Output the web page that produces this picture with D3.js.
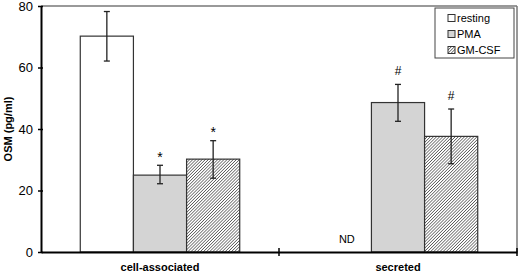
<!DOCTYPE html>
<html>
<head>
<meta charset="utf-8">
<script src="https://cdn.jsdelivr.net/npm/d3@7"></script>
<style>
  body { margin: 0; background: #fff; }
  text { font-family: Arial, 'Liberation Sans', sans-serif; }
</style>
</head>
<body>
<div id="chart"></div>
<script>
// data
var categories = ['cell-associated', 'secreted']
var series = ['resting', 'PMA', 'GM-CSF']
var means = {
  resting: [70.2, null],
  PMA: [25.0, 48.6],
  'GM-CSF': [30.2, 37.6]
}
var errLow = {
  resting: [62.1, null],
  PMA: [22.2, 42.5],
  'GM-CSF': [24.0, 28.7]
}
var errHigh = {
  resting: [78.2, null],
  PMA: [28.2, 54.5],
  'GM-CSF': [36.2, 46.5]
}
var marks = {
  resting: ['', 'ND'],
  PMA: ['*', '#'],
  'GM-CSF': ['*', '#']
}
var yTicks = [0, 20, 40, 60, 80]

var margin = { top: 6, left: 41, right: 3, bottom: 22 }
var width = 520 - margin.left - margin.right
var height = 274 - margin.top - margin.bottom

var svg = d3
  .select('#chart')
  .append('svg')
  .attr('width', 520)
  .attr('height', 274)

var defs = svg.append('defs')
var pat = defs
  .append('pattern')
  .attr('id', 'hatch')
  .attr('patternUnits', 'userSpaceOnUse')
  .attr('width', 2.2)
  .attr('height', 2.2)
  .attr('patternTransform', 'rotate(45)')
pat.append('rect').attr('width', 2.2).attr('height', 2.2).attr('fill', '#fff')
pat
  .append('line')
  .attr('x1', 0)
  .attr('y1', 0)
  .attr('x2', 0)
  .attr('y2', 2.2)
  .attr('stroke', '#222')
  .attr('stroke-width', 1.1)

var fills = { resting: '#ffffff', PMA: '#d4d4d4', 'GM-CSF': 'url(#hatch)' }

var g = svg
  .append('g')
  .attr('transform', 'translate(' + margin.left + ',' + margin.top + ')')

var x0 = d3.scaleBand().domain(categories).range([0, width])
var inner = x0.bandwidth() * 0.67
var x1 = d3
  .scaleBand()
  .domain(series)
  .range([0, inner])
var y = d3.scaleLinear().domain([0, 80]).range([height, 0])

// frame (top and right, gray)
g.append('line')
  .attr('x1', 0).attr('x2', width)
  .attr('y1', 0).attr('y2', 0)
  .attr('stroke', '#777').attr('stroke-width', 1.5)
g.append('line')
  .attr('x1', width).attr('x2', width)
  .attr('y1', 0).attr('y2', height)
  .attr('stroke', '#777').attr('stroke-width', 1.5)

// bars
var rows = []
series.forEach(s => {
  categories.forEach((c, i) => {
    rows.push({ s: s, c: c, v: means[s][i], lo: errLow[s][i], hi: errHigh[s][i], m: marks[s][i] })
  })
})

function bx(d) {
  return x0(d.c) + (x0.bandwidth() - inner) / 2 + x1(d.s)
}

g.selectAll('.bar')
  .data(rows.filter(d => d.v != null))
  .enter()
  .append('rect')
  .attr('class', 'bar')
  .attr('x', bx)
  .attr('width', x1.bandwidth())
  .attr('y', d => y(d.v))
  .attr('height', d => height - y(d.v))
  .attr('fill', d => fills[d.s])
  .attr('stroke', '#333')
  .attr('stroke-width', 1.2)

// error bars
var eb = g.selectAll('.err')
  .data(rows.filter(d => d.v != null))
  .enter()
  .append('g')
  .attr('class', 'err')
  .attr('transform', d => 'translate(' + (bx(d) + x1.bandwidth() / 2) + ',0)')
eb.append('line')
  .attr('y1', d => y(d.lo)).attr('y2', d => y(d.hi))
  .attr('stroke', '#222').attr('stroke-width', 1.3)
eb.append('line')
  .attr('x1', -3).attr('x2', 3)
  .attr('y1', d => y(d.hi)).attr('y2', d => y(d.hi))
  .attr('stroke', '#222').attr('stroke-width', 1.3)
eb.append('line')
  .attr('x1', -3).attr('x2', 3)
  .attr('y1', d => y(d.lo)).attr('y2', d => y(d.lo))
  .attr('stroke', '#222').attr('stroke-width', 1.3)

// significance marks
g.selectAll('.mark')
  .data(rows.filter(d => d.m && d.v != null))
  .enter()
  .append('text')
  .attr('class', 'mark')
  .attr('x', d => bx(d) + x1.bandwidth() / 2)
  .attr('y', d => y(d.hi) - (d.m === '*' ? 13 : 9))
  .attr('text-anchor', 'middle')
  .attr('font-size', d => (d.m === '*' ? 14 : 12))
  .attr('dy', d => (d.m === '*' ? '0.7em' : '0'))
  .text(d => d.m)

// ND label
g.selectAll('.nd')
  .data(rows.filter(d => d.v == null))
  .enter()
  .append('text')
  .attr('class', 'nd')
  .attr('x', d => bx(d) + x1.bandwidth() / 2 + 2)
  .attr('y', height - 9)
  .attr('text-anchor', 'middle')
  .attr('font-size', 11)
  .text(d => d.m)

// axes
var yAxis = d3.axisLeft(y).tickValues(yTicks).tickSize(0).tickPadding(8)
var ya = g.append('g').attr('class', 'axis y-axis').call(yAxis)
ya.select('.domain').attr('stroke', '#000').attr('stroke-width', 2)
ya.selectAll('.tick text').attr('font-size', 13).attr('fill', '#000')
ya.selectAll('.tick')
  .append('line')
  .attr('x1', -3).attr('x2', 2)
  .attr('stroke', '#000').attr('stroke-width', 1.5)

var xAxis = d3.axisBottom(x0).tickSize(0).tickPadding(11)
var xa = g.append('g')
  .attr('class', 'axis x-axis')
  .attr('transform', 'translate(0,' + height + ')')
  .call(xAxis)
xa.select('.domain').attr('stroke', '#000').attr('stroke-width', 2)
xa.selectAll('.tick text')
  .attr('font-size', 11)
  .attr('font-weight', 'bold')
  .attr('fill', '#000')

// category separators on x axis
var seps = [x0(categories[1]), width]
xa.selectAll('.sep')
  .data(seps)
  .enter()
  .append('line')
  .attr('x1', d => d).attr('x2', d => d)
  .attr('y1', -4).attr('y2', 4)
  .attr('stroke', '#000').attr('stroke-width', 1.5)

// y label
svg.append('text')
  .attr('transform', 'translate(12,' + (margin.top + height / 2) + ') rotate(-90)')
  .attr('text-anchor', 'middle')
  .attr('font-size', 11)
  .attr('font-weight', 'bold')
  .text('OSM (pg/ml)')

// legend
var lg = svg.append('g').attr('transform', 'translate(435,8)')
lg.append('rect')
  .attr('width', 79).attr('height', 50)
  .attr('fill', '#fff').attr('stroke', '#444').attr('stroke-width', 1)
var li = lg.selectAll('.legend')
  .data(series)
  .enter()
  .append('g')
  .attr('class', 'legend')
  .attr('transform', (d, i) => 'translate(13,' + (6.5 + i * 16) + ')')
li.append('rect')
  .attr('width', 7).attr('height', 7)
  .attr('fill', d => fills[d])
  .attr('stroke', '#333').attr('stroke-width', 1)
li.append('text')
  .attr('x', 9).attr('y', 3.5)
  .attr('dy', '0.36em')
  .attr('font-size', 11)
  .text(d => d)
</script>
</body>
</html>
